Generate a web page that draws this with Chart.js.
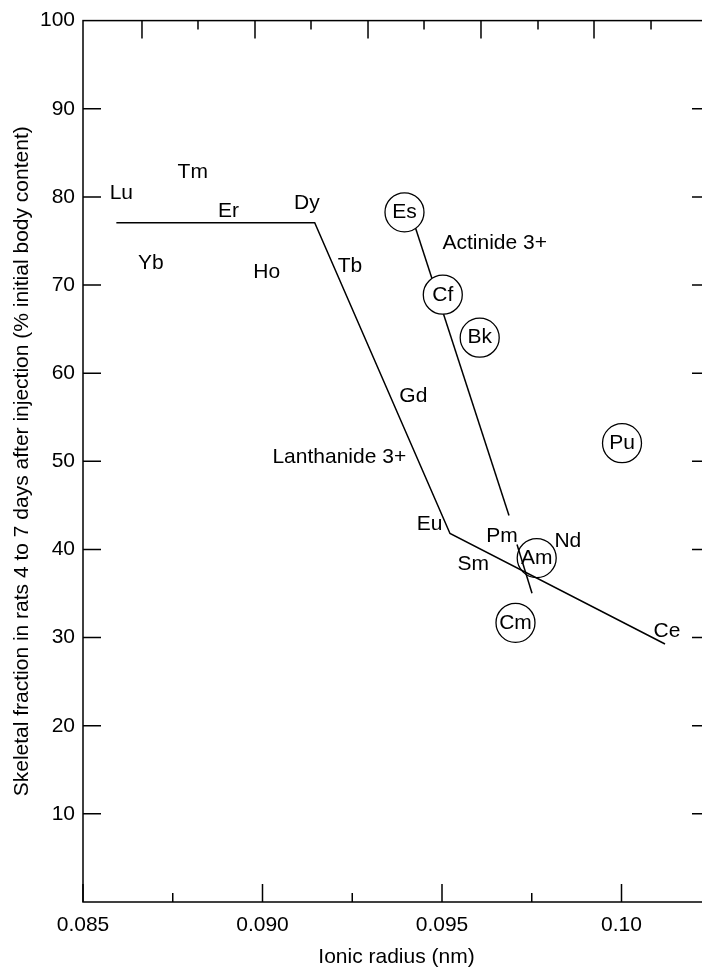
<!DOCTYPE html>
<html>
<head>
<meta charset="utf-8">
<script src="https://cdn.jsdelivr.net/npm/chart.js@4/dist/chart.umd.min.js"></script>
<style>
  html, body { margin: 0; padding: 0; background: #fff; overflow: hidden; }
  #wrap { width: 720px; height: 969px; }
</style>
</head>
<body>
<div id="wrap"><canvas id="c" width="720" height="969"></canvas></div>
<script>
// Axis ticks
const xTicks = [0.085, 0.090, 0.095, 0.100];
const xTickLabels = ['0.085', '0.090', '0.095', '0.10'];
const xMinorTicks = [0.0875, 0.0925, 0.0975];
const topMajorTicks = [0.086643, 0.089791, 0.092939, 0.096086, 0.099234];
const topMinorTicks = [0.088203, 0.091351, 0.094499, 0.097674, 0.100822];
const yTicks = [10, 20, 30, 40, 50, 60, 70, 80, 90, 100];
const yTickLabels = ['10', '20', '30', '40', '50', '60', '70', '80', '90', '100'];

// Lanthanide 3+ trend line
const lanthanideX = [0.085929, 0.091454, 0.095223, 0.101212];
const lanthanideY = [77.06, 77.06, 41.81, 29.27];

// Actinide 3+ trend line (broken under the Pm label)
const actinideUpperX = [0.094120, 0.096866];
const actinideUpperY = [78.25, 43.84];
const actinideLowerX = [0.097089, 0.097507];
const actinideLowerY = [40.56, 35.03];

// Actinide elements (circled)
const actinideNames = ['Es', 'Cf', 'Bk', 'Pu', 'Am', 'Cm'];
const actinideX = [0.093955, 0.095022, 0.096050, 0.100014, 0.097638, 0.097047];
const actinideY = [78.25, 68.90, 64.03, 52.06, 39.02, 31.67];

// Lanthanide element labels and series captions
const labelNames = ['Lu', 'Tm', 'Er', 'Dy', 'Yb', 'Ho', 'Tb', 'Gd', 'Lanthanide 3+', 'Eu', 'Pm', 'Nd', 'Sm', 'Ce', 'Actinide 3+'];
const labelX = [0.086067, 0.088056, 0.089053, 0.091234, 0.086889, 0.090117, 0.092437, 0.094201, 0.092139, 0.094652, 0.096671, 0.098504, 0.095872, 0.101267, 0.096468];
const labelY = [80.45, 82.82, 78.33, 79.27, 72.45, 71.47, 72.17, 57.44, 50.51, 42.82, 41.45, 40.90, 38.27, 30.73, 74.80];

const FAMILY = '"Liberation Sans", Arial, Helvetica, sans-serif';
const pts = (xs, ys) => xs.map((v, i) => ({ x: v, y: ys[i] }));

// Frame box with inward tick marks on all four sides
const frameTicks = {
  id: 'frameTicks',
  afterDraw(chart) {
    const { ctx, chartArea: { left, right, top, bottom }, scales: { x, y } } = chart;
    const MAJ = 18, MIN = 9;
    ctx.save();
    ctx.strokeStyle = '#000';
    ctx.lineWidth = 1.5;
    ctx.strokeRect(left, top, right - left, bottom - top);
    ctx.beginPath();
    xTicks.forEach(v => { const p = x.getPixelForValue(v); ctx.moveTo(p, bottom); ctx.lineTo(p, bottom - MAJ); });
    xMinorTicks.forEach(v => { const p = x.getPixelForValue(v); ctx.moveTo(p, bottom); ctx.lineTo(p, bottom - MIN); });
    topMajorTicks.forEach(v => { const p = x.getPixelForValue(v); ctx.moveTo(p, top); ctx.lineTo(p, top + MAJ); });
    topMinorTicks.forEach(v => { const p = x.getPixelForValue(v); ctx.moveTo(p, top); ctx.lineTo(p, top + MIN); });
    yTicks.filter(v => v < 100).forEach(v => {
      const p = y.getPixelForValue(v);
      ctx.moveTo(left, p); ctx.lineTo(left + MAJ, p);
      ctx.moveTo(right, p); ctx.lineTo(right - MAJ, p);
    });
    ctx.stroke();
    ctx.restore();
  }
};

// Element symbols
const elementText = {
  id: 'elementText',
  afterDatasetsDraw(chart) {
    const { ctx, scales: { x, y } } = chart;
    ctx.save();
    ctx.fillStyle = '#000';
    ctx.font = '21px ' + FAMILY;
    ctx.textAlign = 'center';
    ctx.textBaseline = 'middle';
    labelNames.forEach((n, i) => ctx.fillText(n, x.getPixelForValue(labelX[i]), y.getPixelForValue(labelY[i])));
    actinideNames.forEach((n, i) => ctx.fillText(n, x.getPixelForValue(actinideX[i]), y.getPixelForValue(actinideY[i])));
    ctx.restore();
  }
};

new Chart(document.getElementById('c'), {
  type: 'scatter',
  data: {
    datasets: [
      {
        label: 'Actinide 3+',
        data: pts(actinideX, actinideY),
        pointRadius: 19.5,
        pointHoverRadius: 19.5,
        pointBorderWidth: 1.3,
        pointBorderColor: '#000',
        pointBackgroundColor: actinideNames.map(n => n === 'Am' ? 'rgba(255,255,255,0)' : '#fff'),
        showLine: false,
        order: 0
      },
      {
        label: 'Lanthanide 3+ line',
        data: pts(lanthanideX, lanthanideY),
        showLine: true, borderColor: '#000', borderWidth: 1.5, pointRadius: 0, order: 1
      },
      {
        label: 'Actinide 3+ line (upper)',
        data: pts(actinideUpperX, actinideUpperY),
        showLine: true, borderColor: '#000', borderWidth: 1.5, pointRadius: 0, order: 1
      },
      {
        label: 'Actinide 3+ line (lower)',
        data: pts(actinideLowerX, actinideLowerY),
        showLine: true, borderColor: '#000', borderWidth: 1.5, pointRadius: 0, order: 1
      }
    ]
  },
  options: {
    responsive: false,
    animation: false,
    devicePixelRatio: 1,
    layout: { autoPadding: false, padding: { left: 0, top: 17, right: 10, bottom: 0 } },
    plugins: { legend: { display: false }, tooltip: { enabled: false } },
    events: [],
    scales: {
      x: {
        type: 'linear',
        position: 'bottom',
        min: 0.085,
        max: 0.102465,
        afterBuildTicks: s => { s.ticks = xTicks.map(v => ({ value: v })); },
        afterFit: s => { s.height = 67; },
        grid: { display: false, drawTicks: false },
        border: { display: false },
        ticks: {
          padding: 11, color: '#000', maxRotation: 0, autoSkip: false,
          font: { size: 21, family: FAMILY },
          callback: v => { const k = xTicks.findIndex(t => Math.abs(t - v) < 1e-9); return k < 0 ? '' : xTickLabels[k]; }
        },
        title: {
          display: true, text: 'Ionic radius (nm)', color: '#000',
          font: { size: 21, family: FAMILY, lineHeight: 1.1 }, padding: { top: 0, bottom: 0 }
        }
      },
      y: {
        type: 'linear',
        min: 0,
        max: 100,
        afterBuildTicks: s => { s.ticks = yTicks.map(v => ({ value: v })); },
        afterFit: s => { s.width = 83; },
        grid: { display: false, drawTicks: false },
        border: { display: false },
        ticks: {
          padding: 8, color: '#000', autoSkip: false,
          font: { size: 21, family: FAMILY },
          callback: v => { const k = yTicks.indexOf(v); return k < 0 ? '' : yTickLabels[k]; }
        },
        title: {
          display: true, text: 'Skeletal fraction in rats 4 to 7 days after injection (% initial body content)', color: '#000',
          font: { size: 21, family: FAMILY, lineHeight: 1.2 }, padding: { top: 10, bottom: 0 }
        }
      }
    }
  },
  plugins: [frameTicks, elementText]
});
</script>
</body>
</html>
